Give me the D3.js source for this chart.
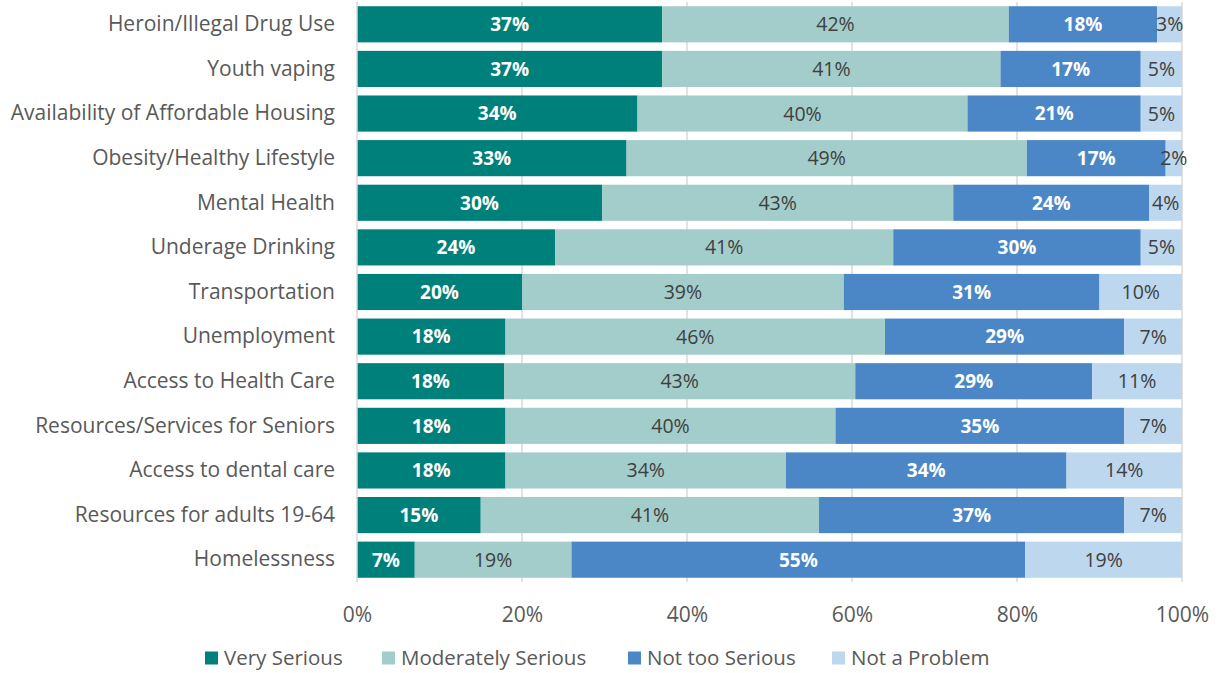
<!DOCTYPE html>
<html>
<head>
<meta charset="utf-8">
<script src="https://cdn.jsdelivr.net/npm/d3@7"></script>
<style>
  html, body { margin: 0; padding: 0; background: #fff; }
  svg { display: block; }
  text { font-family: "Open Sans", Lato, sans-serif; }
</style>
</head>
<body>
<svg id="chart" width="1217" height="673"></svg>
<script>
// Survey: how serious is each issue in the community (share of responses)
const categories = [
  "Heroin/Illegal Drug Use",
  "Youth vaping",
  "Availability of Affordable Housing",
  "Obesity/Healthy Lifestyle",
  "Mental Health",
  "Underage Drinking",
  "Transportation",
  "Unemployment",
  "Access to Health Care",
  "Resources/Services for Seniors",
  "Access to dental care",
  "Resources for adults 19-64",
  "Homelessness"
];
const seriesNames = ["Very Serious", "Moderately Serious", "Not too Serious", "Not a Problem"];
const verySerious       = [37, 37, 34, 33, 30, 24, 20, 18, 18, 18, 18, 15, 7];
const moderatelySerious = [42, 41, 40, 49, 43, 41, 39, 46, 43, 40, 34, 41, 19];
const notTooSerious     = [18, 17, 21, 17, 24, 30, 31, 29, 29, 35, 34, 37, 55];
const notAProblem       = [3, 5, 5, 2, 4, 5, 10, 7, 11, 7, 14, 7, 19];
const xTicks = [0, 0.2, 0.4, 0.6, 0.8, 1];

const colors = ["#00807a", "#a3cdca", "#4b86c6", "#bdd7ee"];
const labelColors = ["#ffffff", "#404040", "#ffffff", "#404040"];
const labelWeights = ["bold", "normal", "bold", "normal"];
const labelSizes = [19, 19.5, 19, 19.5];
const font = "'Open Sans', Lato, sans-serif";

const seriesValues = [verySerious, moderatelySerious, notTooSerious, notAProblem];
const rows = categories.map((c, i) => {
  const r = { category: c };
  seriesNames.forEach((s, k) => r[s] = seriesValues[k][i]);
  return r;
});

// 100% stacked layout
const stacked = d3.stack()
  .keys(seriesNames)
  .offset(d3.stackOffsetExpand)(rows);

const margin = { left: 357, right: 35, top: 2, bottom: 91 };
const width = 1217, height = 673;
const svg = d3.select("#chart");

const x = d3.scaleLinear().domain([0, 1]).range([margin.left, width - margin.right]);
const y = d3.scaleBand().domain(categories)
  .range([margin.top, height - margin.bottom])
  .paddingInner(0.19).paddingOuter(0.095);

// vertical gridlines
svg.append("g").selectAll("line")
  .data(xTicks.slice(1))
  .join("line")
  .attr("x1", d => x(d)).attr("x2", d => x(d))
  .attr("y1", y.range()[0]).attr("y2", y.range()[1])
  .attr("stroke", "#d9d9d9").attr("stroke-width", 1.5);

// bars
const layer = svg.append("g").selectAll("g")
  .data(stacked)
  .join("g")
  .attr("fill", (d, i) => colors[i]);

layer.selectAll("rect")
  .data(d => d)
  .join("rect")
  .attr("x", d => x(d[0]))
  .attr("width", d => x(d[1]) - x(d[0]))
  .attr("y", d => y(d.data.category))
  .attr("height", y.bandwidth());

// value labels
svg.append("g").selectAll("g")
  .data(stacked)
  .join("g")
  .each(function(s, i) {
    d3.select(this).selectAll("text")
      .data(s)
      .join("text")
      .attr("x", d => (x(d[0]) + x(d[1])) / 2)
      .attr("y", d => y(d.data.category) + y.bandwidth() / 2)
      .attr("dy", "0.36em")
      .attr("text-anchor", "middle")
      .attr("font-size", labelSizes[i])
      .attr("font-family", font)
      .attr("font-weight", labelWeights[i])
      .attr("fill", labelColors[i])
      .text(d => d.data[s.key] + "%");
  });

// y axis line and category labels
svg.append("line")
  .attr("x1", x(0)).attr("x2", x(0))
  .attr("y1", y.range()[0]).attr("y2", y.range()[1])
  .attr("stroke", "#d9d9d9").attr("stroke-width", 1.5);

const yAxis = d3.axisLeft(y).tickSize(0).tickPadding(22);
const yg = svg.append("g").attr("transform", `translate(${x(0)},0)`).call(yAxis);
yg.select(".domain").remove();
yg.selectAll("text")
  .attr("font-size", 21)
  .attr("fill", "#595959")
  .attr("font-family", font);

// x axis tick labels
const xAxis = d3.axisBottom(x).tickValues(xTicks).tickFormat(d3.format(".0%")).tickSize(0).tickPadding(0);
const xg = svg.append("g").attr("transform", `translate(0,${y.range()[1] + 32})`).call(xAxis);
xg.select(".domain").remove();
xg.selectAll("text")
  .attr("font-size", 21)
  .attr("fill", "#595959")
  .attr("dy", "0.36em")
  .attr("font-family", font);

// legend
const legendX = [205, 382, 628, 832];
const legend = svg.append("g").selectAll("g")
  .data(seriesNames)
  .join("g")
  .attr("transform", (d, i) => `translate(${legendX[i]},658)`);
legend.append("rect")
  .attr("x", 0).attr("y", -6.5)
  .attr("width", 13).attr("height", 13)
  .attr("fill", (d, i) => colors[i]);
legend.append("text")
  .attr("x", 19).attr("dy", "0.36em")
  .attr("font-size", 20.5)
  .attr("font-family", font)
  .attr("fill", "#595959")
  .text(d => d);
</script>
</body>
</html>
